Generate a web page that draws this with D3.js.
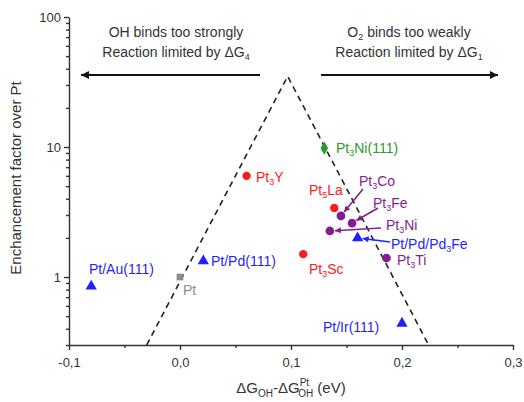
<!DOCTYPE html>
<html><head><meta charset="utf-8">
<script src="https://cdn.jsdelivr.net/npm/d3@7"></script>
<style>
body{margin:0;background:#fff;}
text{font-family:Arial,"Liberation Sans",sans-serif;}
</style></head>
<body><svg id="c" width="524" height="402"></svg>
<script>
// ---- data ----
const names   = ["Pt/Au(111)","Pt","Pt/Pd(111)","Pt3Y","Pt3Ni(111)","Pt5La","Pt3Co","Pt3Fe","Pt3Ni","Pt/Pd/Pd3Fe","Pt3Ti","Pt3Sc","Pt/Ir(111)"];
const dG      = [-0.08, 0.0, 0.021, 0.060, 0.130, 0.139, 0.145, 0.155, 0.135, 0.160, 0.186, 0.111, 0.200];
const enh     = [0.85, 1.0, 1.33, 6.0, 9.8, 3.4, 2.95, 2.6, 2.26, 2.0, 1.4, 1.5, 0.44];
const groups  = ["overlayer","ref","overlayer","alloyR","single","alloyR","alloyP","alloyP","alloyP","overlayer","alloyP","alloyR","overlayer"];
const volcanoX = [-0.03, 0.097, 0.224];
const volcanoY = [0.3, 35, 0.3];
const xTicks = [-0.1, 0.0, 0.1, 0.2, 0.3];
const xTickLabels = ["-0,1","0,0","0,1","0,2","0,3"];
const yTicks = [1, 10, 100];
const yTickLabels = ["1","10","100"];

// ---- styles / layout ----
const colors = {overlayer:"#1f1fff", ref:"#8c8c8c", alloyR:"#ff1a1a", alloyP:"#861d8f", single:"#2a9a2a"};
const shapes = {overlayer:d3.symbolTriangle, ref:d3.symbolSquare, alloyR:d3.symbolCircle, alloyP:d3.symbolCircle, single:d3.symbolDiamond};
const sizes  = {overlayer:55, ref:45, alloyR:55, alloyP:60, single:50};
// label anchor (absolute px) for each point's label
const labelPos = [[89,274],[183,295],[211,266],[256,182],[336,153],[309,195],[359,186],[373,208],[386,230],[391,249],[397,265],[309,274],[323,332]];
// label arrows: [index, tailX, tailY] (tip = point)
const labelArrows = [[6,363,189],[7,378,208],[8,381,228],[9,390,242]];

const svg = d3.select("#c");
const x = d3.scaleLinear().domain([-0.1,0.3]).range([69,513]);
const y = d3.scaleLog().domain([0.3,100]).range([345,17]);

const defs = svg.append("defs");
function marker(id,color,w,h){
  defs.append("marker").attr("id",id).attr("viewBox","0 0 10 10").attr("refX",10).attr("refY",5)
    .attr("markerWidth",w).attr("markerHeight",h).attr("markerUnits","userSpaceOnUse").attr("orient","auto")
    .append("path").attr("d","M0,0L10,5L0,10Z").attr("fill",color);
}
marker("ab","#111",12,8);
marker("ap",colors.alloyP,8,6);
marker("abl",colors.overlayer,8,6);

// axes
const axisColor="#333";
const gx = svg.append("g").attr("transform","translate(0,345)")
  .call(d3.axisBottom(x).tickValues(xTicks).tickFormat((d,i)=>xTickLabels[i]).tickSize(5).tickSizeOuter(0).tickPadding(4));
const gxm = svg.append("g").attr("transform","translate(0,345)")
  .call(d3.axisBottom(x).tickValues([-0.05,0.05,0.15,0.25]).tickFormat("").tickSize(3).tickSizeOuter(0));
gxm.select(".domain").remove();
const minorY=[];
[0.1,1,10].forEach(b=>{for(let k=2;k<=9;k++){const v=b*k; if(v>=0.3&&v<100&&v!==1&&v!==10) minorY.push(v);}});
const gy = svg.append("g").attr("transform","translate(69,0)")
  .call(d3.axisLeft(y).tickValues(yTicks).tickFormat((d,i)=>yTickLabels[i]).tickSize(5).tickSizeOuter(0).tickPadding(3));
const gym = svg.append("g").attr("transform","translate(69,0)")
  .call(d3.axisLeft(y).tickValues(minorY).tickFormat("").tickSize(3).tickSizeOuter(0));
gym.select(".domain").remove();
svg.selectAll(".domain,.tick line").attr("stroke",axisColor).attr("stroke-width",1.4);
svg.selectAll(".tick text").attr("font-size",13).attr("fill","#333").attr("font-family","Arial, Liberation Sans, sans-serif");
gx.selectAll(".tick text").attr("dy","1em");

// axis titles
svg.append("text").attr("transform","translate(21,178) rotate(-90)").attr("text-anchor","middle")
  .attr("font-size",15).attr("fill","#333").text("Enchancement factor over Pt");
const xt = svg.append("text").attr("x",291).attr("y",393).attr("text-anchor","middle").attr("font-size",15).attr("fill","#333");
xt.append("tspan").text("ΔG");
xt.append("tspan").attr("font-size",10).attr("dy",4).text("OH");
xt.append("tspan").attr("dy",-4).text("-ΔG");
xt.append("tspan").attr("font-size",10).attr("dy",-7).text("Pt");
xt.append("tspan").attr("font-size",10).attr("dx",-11).attr("dy",11).text("OH");
xt.append("tspan").attr("dy",-4).text(" (eV)");

// volcano
const vol = volcanoX.map((v,i)=>[v,volcanoY[i]]);
svg.append("path").datum(vol).attr("d",d3.line().x(d=>x(d[0])).y(d=>y(d[1])))
  .attr("fill","none").attr("stroke","#222").attr("stroke-width",1.6).attr("stroke-dasharray","6,4.5");

// annotations
let t = svg.append("text").attr("x",176).attr("y",37).attr("text-anchor","middle").attr("font-size",14).attr("fill","#333").text("OH binds too strongly");
t = svg.append("text").attr("x",176).attr("y",57).attr("text-anchor","middle").attr("font-size",14).attr("fill","#333");
t.append("tspan").text("Reaction limited by ΔG"); t.append("tspan").attr("font-size",9).attr("dy",3).text("4");
t = svg.append("text").attr("x",409).attr("y",37).attr("text-anchor","middle").attr("font-size",14).attr("fill","#333");
t.append("tspan").text("O"); t.append("tspan").attr("font-size",9).attr("dy",3).text("2"); t.append("tspan").attr("dy",-3).text(" binds too weakly");
t = svg.append("text").attr("x",409).attr("y",57).attr("text-anchor","middle").attr("font-size",14).attr("fill","#333");
t.append("tspan").text("Reaction limited by ΔG"); t.append("tspan").attr("font-size",9).attr("dy",3).text("1");
svg.append("line").attr("x1",260).attr("y1",75).attr("x2",81).attr("y2",75).attr("stroke","#111").attr("stroke-width",2).attr("marker-end","url(#ab)");
svg.append("line").attr("x1",321).attr("y1",75).attr("x2",498).attr("y2",75).attr("stroke","#111").attr("stroke-width",2).attr("marker-end","url(#ab)");

// label arrows
labelArrows.forEach(a=>{
  const i=a[0], g=groups[i];
  const px=x(dG[i]), py=y(enh[i]);
  const ang=Math.atan2(a[2]-py,a[1]-px);
  svg.append("line").attr("x1",a[1]).attr("y1",a[2]).attr("x2",px+5*Math.cos(ang)).attr("y2",py+5*Math.sin(ang))
    .attr("stroke",colors[g]).attr("stroke-width",1.6).attr("marker-end",g==="overlayer"?"url(#abl)":"url(#ap)");
});

// points
names.forEach((n,i)=>{
  const g=groups[i];
  svg.append("path").attr("d",d3.symbol().type(shapes[g]).size(sizes[g])())
    .attr("transform",`translate(${x(dG[i])},${y(enh[i])})`).attr("fill",colors[g]);
  const lt = svg.append("text").attr("x",labelPos[i][0]).attr("y",labelPos[i][1]).attr("font-size",14).attr("fill",colors[g]);
  const m = n.match(/^(Pt(?:\/Pd\/Pd)?)(\d)(.*)$/);
  if(m){ lt.append("tspan").text(m[1]); lt.append("tspan").attr("font-size",9).attr("dy",3).text(m[2]); lt.append("tspan").attr("dy",-3).text(m[3]); }
  else lt.text(n);
});
</script></body></html>
